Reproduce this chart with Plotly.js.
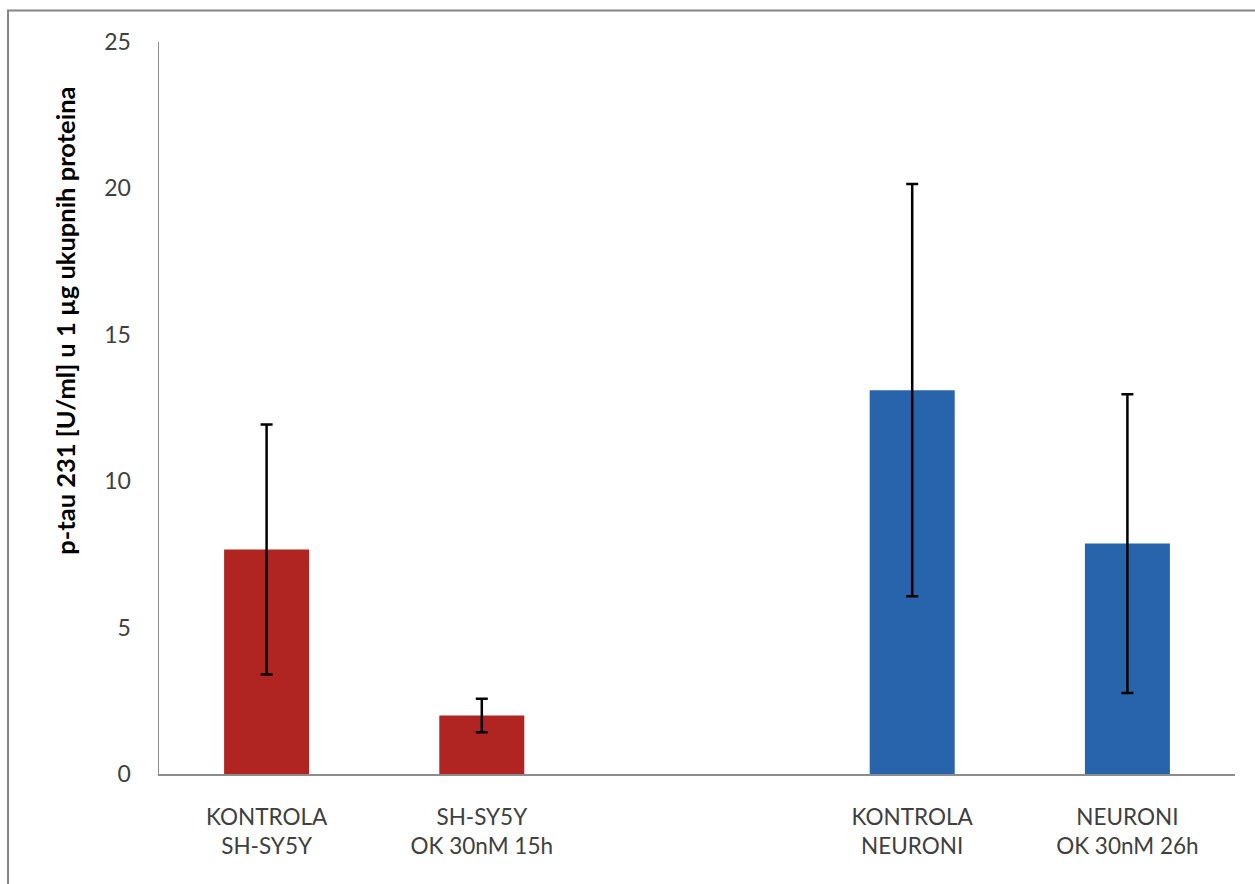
<!DOCTYPE html>
<html>
<head>
<meta charset="utf-8">
<script src="https://cdn.plot.ly/plotly-3.0.1.min.js"></script>
<style>
  html, body { margin: 0; padding: 0; background: #ffffff; }
  #chart { width: 1255px; height: 884px; }
</style>
</head>
<body>
<div id="chart"></div>
<script>
// Category slots (the blank slot is the gap between the two groups)
const categories = ['KONTROLA<br>SH-SY5Y', 'SH-SY5Y<br>OK 30nM 15h', ' ', 'KONTROLA<br>NEURONI', 'NEURONI<br>OK 30nM 26h'];

// SH-SY5Y group
const shsyLabels = ['KONTROLA<br>SH-SY5Y', 'SH-SY5Y<br>OK 30nM 15h'];
const shsyValues = [7.67, 2.0];
const shsyErrors = [4.27, 0.57];

// Neuron group
const neuronLabels = ['KONTROLA<br>NEURONI', 'NEURONI<br>OK 30nM 26h'];
const neuronValues = [13.11, 7.87];
const neuronErrors = [7.04, 5.1];

const yTickValues = [0, 5, 10, 15, 20, 25];
const yTitle = 'p-tau 231 [U/ml] u 1 µg ukupnih proteina';

const FONT = 'Lato, "Open Sans", sans-serif';

const errStyle = { type: 'data', visible: true, color: '#000000', thickness: 2.5, width: 6 };

const traces = [
  {
    type: 'bar', x: shsyLabels, y: shsyValues,
    marker: { color: '#B02522' },
    error_y: Object.assign({ array: shsyErrors }, errStyle),
    hoverinfo: 'skip', showlegend: false
  },
  {
    type: 'bar', x: neuronLabels, y: neuronValues,
    marker: { color: '#2864AC' },
    error_y: Object.assign({ array: neuronErrors }, errStyle),
    hoverinfo: 'skip', showlegend: false
  }
];

const layout = {
  width: 1255, height: 884,
  margin: { l: 159, r: 20, t: 42, b: 110, pad: 0 },
  paper_bgcolor: '#ffffff', plot_bgcolor: '#ffffff',
  barmode: 'overlay', bargap: 0.605,
  font: { family: FONT, color: '#404040', size: 22 },
  xaxis: {
    type: 'category', categoryorder: 'array', categoryarray: categories,
    range: [-0.5, 4.5],
    showline: true, linecolor: '#8c8c8c', linewidth: 1.5,
    showgrid: false, zeroline: false, ticks: '',
    ticklabelstandoff: 22,
    tickfont: { family: FONT, size: 22.5, color: '#404040' }
  },
  yaxis: {
    range: [0, 25], tickvals: yTickValues,
    showline: true, linecolor: '#8c8c8c', linewidth: 1.5,
    showgrid: false, zeroline: false, ticks: '',
    ticklabelstandoff: 22,
    tickfont: { family: FONT, size: 23, color: '#404040' }
  },
  annotations: [{
    text: yTitle, xref: 'paper', yref: 'paper',
    x: -0.0875, y: 0.619, xanchor: 'center', yanchor: 'middle',
    textangle: -90, showarrow: false,
    font: { family: FONT, size: 25.5, color: '#000000', weight: 'bold' }
  }],
  shapes: [{
    type: 'rect', xref: 'paper', yref: 'paper',
    x0: -0.1403, x1: 1.3, y0: -0.5, y1: 1.043,
    line: { color: '#858585', width: 2 }, fillcolor: 'rgba(0,0,0,0)', layer: 'above'
  }]
};

Plotly.newPlot('chart', traces, layout, { staticPlot: true, displayModeBar: false });
</script>
</body>
</html>
